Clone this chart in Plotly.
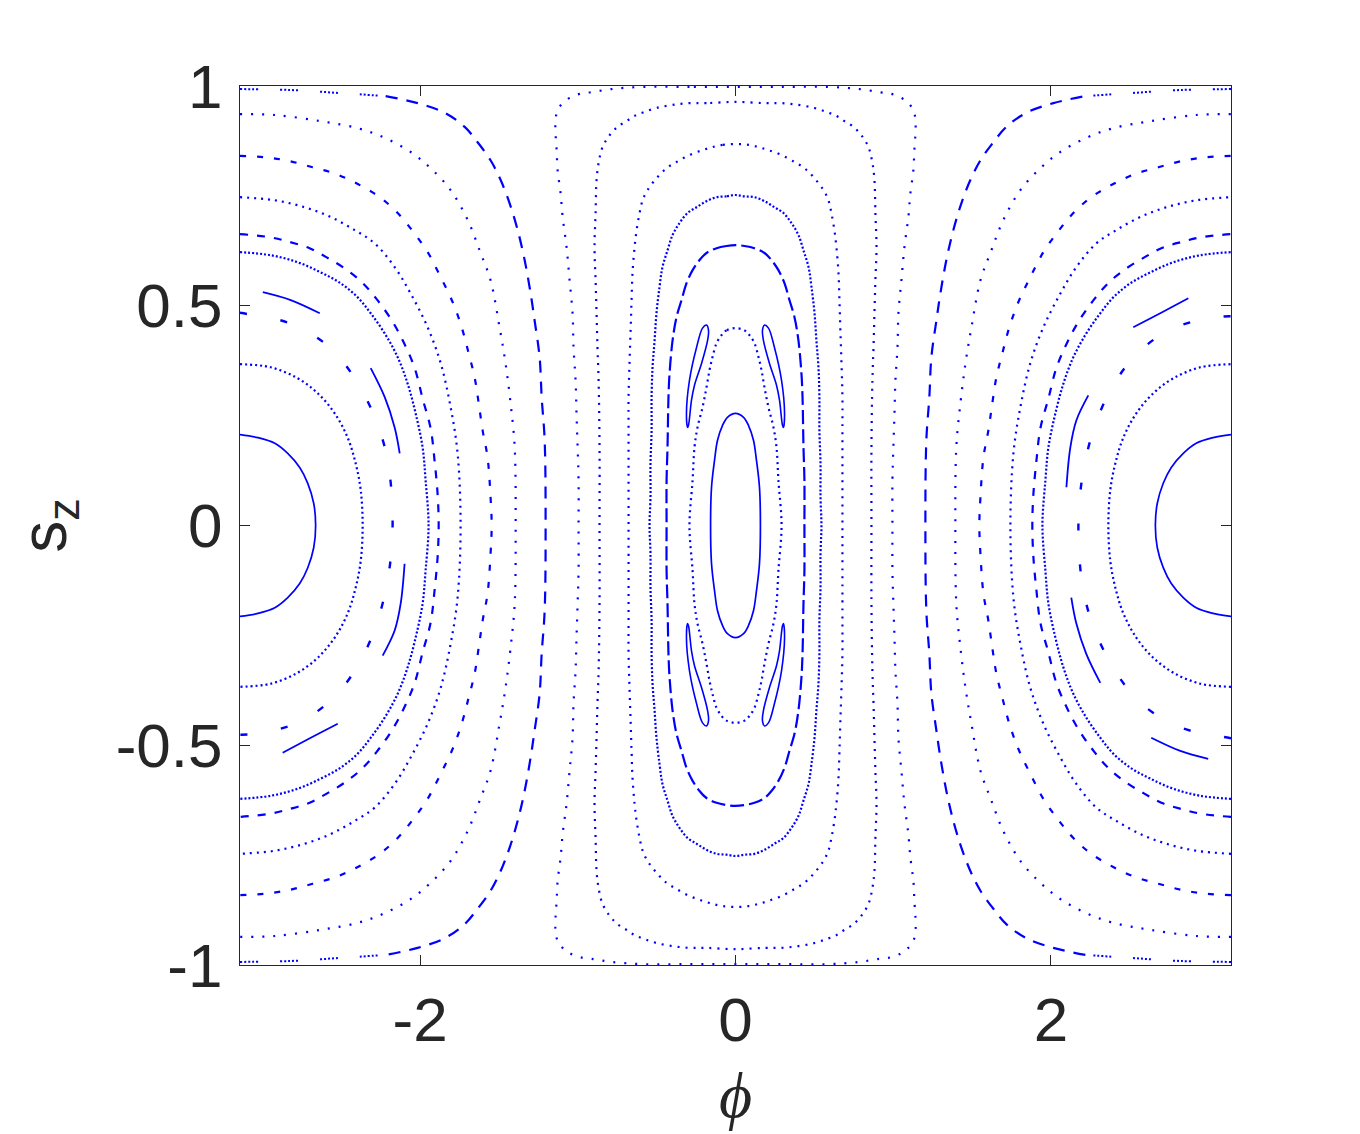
import plotly.graph_objects as go

BLUE = "#0000FF"
INK = "#262626"
PI = 3.1416

# ---- orbits around phi = -pi (upper quarter, from the left edge down to sz = 0) ----
# the matching orbit on the right side is the point reflection (phi, sz) -> (-phi, -sz)
phi_lg = [-3.1416, -3.029, -2.921, -2.839, -2.763, -2.712, -2.674, -2.662]
sz_lg = [0.207, 0.200, 0.187, 0.164, 0.132, 0.096, 0.050, 0.0]

phi_lf = [-3.1416, -2.947, -2.776, -2.649, -2.541, -2.459, -2.408, -2.376, -2.364]
sz_lf = [0.367, 0.360, 0.335, 0.301, 0.255, 0.200, 0.141, 0.080, 0.0]

phi_le = [-3.1416, -2.947, -2.776, -2.630, -2.503, -2.395, -2.313, -2.224, -2.142,
          -2.079, -2.028, -1.984, -1.965, -1.946]
sz_le = [0.622, 0.615, 0.599, 0.576, 0.551, 0.519, 0.483, 0.437, 0.383,
         0.323, 0.255, 0.178, 0.103, 0.0]

phi_ld = [-3.1416, -2.953, -2.826, -2.700, -2.592, -2.478, -2.370, -2.275, -2.180,
          -2.104, -2.034, -1.984, -1.933, -1.907, -1.888, -1.882]
sz_ld = [0.663, 0.656, 0.645, 0.631, 0.610, 0.585, 0.554, 0.515, 0.467,
         0.417, 0.358, 0.289, 0.221, 0.144, 0.068, 0.0]

phi_lc = [-3.1416, -2.921, -2.731, -2.567, -2.414, -2.288, -2.161, -2.060, -1.952,
          -1.869, -1.806, -1.762, -1.743]
sz_lc = [0.747, 0.740, 0.724, 0.702, 0.672, 0.642, 0.588, 0.528, 0.451,
         0.369, 0.269, 0.164, 0.0]

phi_lb = [-3.1416, -2.985, -2.826, -2.681, -2.535, -2.395, -2.256, -2.142, -2.047,
          -1.952, -1.869, -1.793, -1.736, -1.692, -1.654, -1.629, -1.603, -1.572,
          -1.553, -1.546]
sz_lb = [0.841, 0.838, 0.829, 0.815, 0.800, 0.777, 0.747, 0.711, 0.670,
         0.622, 0.565, 0.508, 0.451, 0.392, 0.337, 0.280, 0.216, 0.155,
         0.064, 0.0]

phi_la = [-3.1416, -2.921, -2.630, -2.395, -2.224, -2.060, -1.933, -1.806, -1.698,
          -1.616, -1.553, -1.496, -1.458, -1.426, -1.400, -1.394]
sz_la = [0.936, 0.934, 0.920, 0.904, 0.882, 0.850, 0.813, 0.763, 0.695,
         0.620, 0.558, 0.451, 0.369, 0.278, 0.178, 0.0]

# open orbit passing near the poles (upper half); first 4 points hug the pole
phi_open = [-3.1416, -2.826, -2.510, -2.218, -2.015, -1.844, -1.717, -1.635, -1.553,
            -1.489, -1.432, -1.381, -1.337, -1.299, -1.274, -1.242, -1.229, -1.210, -1.204]
sz_open = [0.993, 0.991, 0.984, 0.977, 0.961, 0.939, 0.907, 0.872, 0.831,
           0.786, 0.733, 0.672, 0.604, 0.528, 0.467, 0.383, 0.292, 0.194, 0.0]

# resonance chain around phi = -pi
phi_chain = [-3.1416, -3.093, -2.826, -2.573, -2.376, -2.224, -2.174, -2.218, -2.345,
             -2.535, -2.776, -3.048, -3.1416]
sz_chain = [0.484, 0.481, 0.460, 0.405, 0.312, 0.178, 0.011, -0.148, -0.285,
            -0.387, -0.449, -0.474, -0.476]
arcs_phi = [[-2.997, -2.820, -2.636], [-2.313, -2.224, -2.161, -2.129],
            [-2.098, -2.123, -2.161, -2.237], [-2.522, -2.693, -2.871]]
arcs_sz = [[0.531, 0.513, 0.483], [0.358, 0.292, 0.223, 0.164],
           [-0.087, -0.178, -0.239, -0.296], [-0.451, -0.483, -0.517]]

# ---- orbits around phi = 0 (upper-left quarter, from the top down to sz = 0) ----
phi_c6 = [0.0, -0.292, -0.589, -0.786, -0.913, -0.989, -1.052, -1.096, -1.128, -1.141,
          -1.141, -1.134, -1.128, -1.109, -1.096, -1.071, -1.052, -1.033, -1.027,
          -1.014, -1.008, -1.001, -0.995, -0.995]
sz_c6 = [0.998, 0.998, 0.998, 0.993, 0.986, 0.982, 0.973, 0.961, 0.945, 0.923,
         0.893, 0.854, 0.809, 0.756, 0.702, 0.633, 0.558, 0.483, 0.405,
         0.330, 0.255, 0.178, 0.103, 0.0]

phi_c5 = [0.0, -0.184, -0.292, -0.399, -0.501, -0.577, -0.640, -0.691, -0.748, -0.798,
          -0.843, -0.868, -0.881, -0.887, -0.894, -0.887, -0.881, -0.875, -0.868,
          -0.862, -0.862]
sz_c5 = [0.964, 0.961, 0.961, 0.957, 0.950, 0.941, 0.932, 0.920, 0.907, 0.888,
         0.861, 0.825, 0.786, 0.711, 0.633, 0.558, 0.483, 0.405, 0.330,
         0.178, 0.0]

phi_c4 = [0.0, -0.082, -0.146, -0.209, -0.292, -0.374, -0.437, -0.501, -0.558, -0.589,
          -0.608, -0.627, -0.640, -0.653, -0.659, -0.665, -0.672, -0.678, -0.678, -0.678]
sz_c4 = [0.868, 0.866, 0.861, 0.854, 0.843, 0.827, 0.813, 0.790, 0.763, 0.740,
         0.711, 0.672, 0.633, 0.574, 0.513, 0.444, 0.369, 0.292, 0.216, 0.0]

phi_c3 = [0.0, -0.057, -0.120, -0.184, -0.247, -0.304, -0.355, -0.399, -0.431, -0.463,
          -0.482, -0.501, -0.513, -0.526, -0.532, -0.532, -0.539, -0.539, -0.545]
sz_c3 = [0.752, 0.749, 0.747, 0.738, 0.724, 0.711, 0.688, 0.661, 0.626, 0.588,
         0.542, 0.483, 0.421, 0.360, 0.292, 0.216, 0.141, 0.064, 0.0]

phi_c2 = [0.0, -0.057, -0.120, -0.184, -0.228, -0.272, -0.311, -0.342, -0.374, -0.399,
          -0.418, -0.425, -0.431, -0.437, -0.437]
sz_c2 = [0.638, 0.636, 0.631, 0.620, 0.604, 0.581, 0.551, 0.513, 0.474, 0.421,
         0.346, 0.292, 0.178, 0.103, 0.0]

phi_c1 = [0.0, -0.057, -0.089, -0.120, -0.146, -0.165, -0.184, -0.209, -0.241, -0.260,
          -0.272, -0.292]
sz_c1 = [0.449, 0.444, 0.433, 0.415, 0.383, 0.353, 0.314, 0.269, 0.223, 0.178,
         0.103, 0.0]

phi_c0 = [0.0, -0.051, -0.082, -0.114, -0.133, -0.152, -0.158]
sz_c0 = [0.255, 0.246, 0.228, 0.194, 0.148, 0.087, 0.0]

# one of the four small islands (upper-left), closed loop
phi_isl = [-0.184, -0.209, -0.247, -0.292, -0.311, -0.304, -0.298, -0.279, -0.260,
           -0.215, -0.177, -0.171, -0.184]
sz_isl = [0.456, 0.449, 0.405, 0.330, 0.255, 0.223, 0.228, 0.285, 0.319,
          0.369, 0.421, 0.444, 0.456]

x_ticks = [-2, 0, 2]
x_ticktext = ["-2", "0", "2"]
y_ticks = [-1, -0.5, 0, 0.5, 1]
y_ticktext = ["-1", "-0.5", "0", "0.5", "1"]


def side_loop(p, s):
    # quarter -> full arc on the left (top edge to bottom edge through sz = 0)
    return p + p[-2::-1], s + [-v for v in s[-2::-1]]


def center_loop(p, s):
    px = p + p[-2::-1] + [-v for v in p[1:]] + [-v for v in p[-2::-1]]
    sy = s + [-v for v in s[-2::-1]] + [-v for v in s[1:]] + s[-2::-1]
    return px, sy


def reflect(p, s):
    return [-v for v in p], [-v for v in s]


fig = go.Figure()


def add(p, s, dash="solid", width=2.2):
    fig.add_trace(go.Scatter(
        x=p, y=s, mode="lines",
        line=dict(color=BLUE, width=width, dash=dash, shape="spline", smoothing=1.0),
        hoverinfo="skip", showlegend=False,
    ))


def add_both(p, s, dash, width):
    add(p, s, dash, width)
    add(*reflect(p, s), dash, width)


side = [
    (phi_lg, sz_lg, "solid", 1.7),
    (phi_lf, sz_lf, "2px,3px", 2.2),
    (phi_le, sz_le, "2px,2px", 2.2),
    (phi_ld, sz_ld, "8px,9px", 2.2),
    (phi_lc, sz_lc, "2px,5px", 2.2),
    (phi_lb, sz_lb, "6px,11px", 2.2),
    (phi_la, sz_la, "2px,9px", 2.2),
]
for p, s, d, w in side:
    add_both(*side_loop(p, s), d, w)

# open orbit: dashed body, clustered dots near the poles
add_both(*side_loop(phi_open[3:], sz_open[3:]), "12px,9px", 2.2)
pole = "2px,2px,2px,2px,2px,2px,2px,2px,2px,22px"
add_both(phi_open[:4], sz_open[:4], pole, 2.0)
add_both(phi_open[:4], [-v for v in sz_open[:4]], pole, 2.0)

add_both(phi_chain, sz_chain, "7px,34px", 2.4)
for p, s in zip(arcs_phi, arcs_sz):
    add_both(p, s, "solid", 1.8)

center = [
    (phi_c6, sz_c6, "2px,9px", 2.2),
    (phi_c5, sz_c5, "2px,6px", 2.2),
    (phi_c4, sz_c4, "2px,6px", 2.2),
    (phi_c3, sz_c3, "2px,2px", 2.2),
    (phi_c2, sz_c2, "14px,5px", 2.2),
    (phi_c1, sz_c1, "2px,4px", 2.2),
    (phi_c0, sz_c0, "solid", 1.7),
]
for p, s, d, w in center:
    add(*center_loop(p, s), d, w)

for sp in (1, -1):
    for ss in (1, -1):
        add([sp * v for v in phi_isl], [ss * v for v in sz_isl], "solid", 1.6)

axis_common = dict(
    showgrid=False, zeroline=False, showline=True, linecolor=INK, linewidth=1.2,
    mirror="ticks", ticks="inside", ticklen=10, tickwidth=1.2, tickcolor=INK,
    tickfont=dict(family="Liberation Sans, Arial, sans-serif", size=62, color=INK),
)

fig.update_layout(
    width=1352, height=1126,
    margin=dict(l=232, r=129, t=78, b=169),
    plot_bgcolor="white", paper_bgcolor="white",
    showlegend=False,
    xaxis=dict(
        range=[-PI, PI], tickvals=x_ticks, ticktext=x_ticktext,
        ticklabelstandoff=0,
        title=dict(text="<i>ϕ</i>", standoff=19,
                   font=dict(family="Liberation Serif, DejaVu Serif, serif", size=64, color=INK)),
        **axis_common,
    ),
    yaxis=dict(
        range=[-1, 1], tickvals=y_ticks, ticktext=y_ticktext,
        ticklabelstandoff=4,
        title=dict(text="s<sub>z</sub>", standoff=36,
                   font=dict(family="Liberation Sans, Arial, sans-serif", size=64, color=INK)),
        **axis_common,
    ),
)

fig.write_html("out.html")
